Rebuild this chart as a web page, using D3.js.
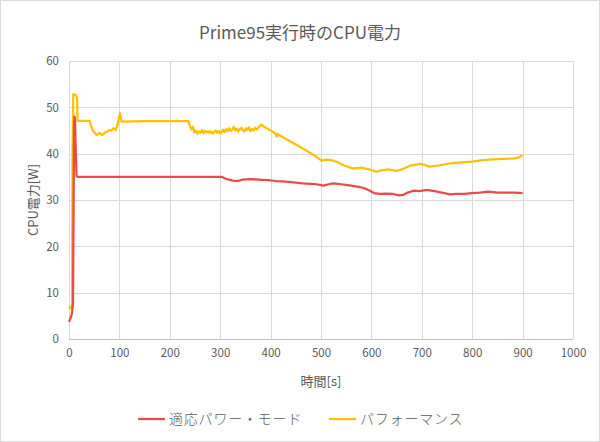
<!DOCTYPE html>
<html><head><meta charset="utf-8">
<script src="https://cdn.jsdelivr.net/npm/d3@7"></script>
<style>body{margin:0;background:#fff}svg{display:block}</style>
</head><body>
<svg id="c" width="600" height="442"></svg>
<script>
const title = "Prime95実行時のCPU電力";
const xLabel = "時間[s]";
const yLabel = "CPU電力[W]";
const seriesNames = ["適応パワー・モード", "パフォーマンス"];
const seriesColors = ["#ea4a4a", "#ffc000"];
const xTicks = [0,100,200,300,400,500,600,700,800,900,1000];
const yTicks = [0,10,20,30,40,50,60];

const adaptTimes = [0,3,6,8,10,11,12,13,15,17,100,200,303,313,325,335,345,359,375,395,410,425,445,464,480,491,500,505,515,524,540,560,577,590,597,605,617,630,643,655,663,672,683,695,710,725,740,756,770,785,799,815,832,850,870,885,900];
const adaptWatts = [3.7,4.5,5.5,8,46,48,47.5,42,35.2,35,35,35,35,34.5,34.2,34.1,34.4,34.5,34.4,34.3,34.1,34.0,33.8,33.6,33.5,33.4,33.2,33.1,33.4,33.6,33.4,33.1,32.8,32.4,32.0,31.5,31.3,31.4,31.3,31.0,31.1,31.6,32.0,31.9,32.2,31.9,31.6,31.2,31.3,31.3,31.5,31.6,31.8,31.6,31.6,31.6,31.5];

const perfTimes = [0,3,6,7,8.5,10,14,16,17,20,41,44,47,51,55,58,61.5,65,68,72,76,81,84,88,93,97,101,104.5,150,200,237,240,243,246,249,252,255,258,261,264,267,270,273,276,279,282,285,288,291,294,297,300,303,306,309,312,315,318,321,324,327,330,333,336,339,342,345,348,351,354,357,360,363,366,369,372,375,378,381,384,387,390,395,400,405,410,412,414,420,430,450,475,490,501,511,520,530,545,563,580,595,610,620,633,650,660,677,698,705,715,736,756,780,799,820,850,885,893,900];
const perfWatts = [6.5,7,6.5,40,52.8,52.8,52.6,52,47.1,47.1,47.1,46,45.1,44.5,44.0,44.3,44.5,44.0,44.2,44.6,44.8,45.1,45.0,45.5,45.1,46.5,48.7,46.9,47.0,47.0,47.0,46.0,45.2,45.8,44.6,45.0,44.3,44.8,44.5,45.1,44.4,44.9,44.6,44.9,44.5,44.8,44.3,44.7,45.0,44.5,44.9,44.4,44.7,45.2,44.6,45.3,44.8,45.5,44.9,45.2,45.8,45.0,45.4,44.8,45.3,45.6,45.0,44.8,45.5,45.1,45.7,44.9,45.3,45.0,45.6,45.2,45.5,45.9,46.2,46.1,45.8,45.6,45.3,45.0,44.7,44.3,43.7,44.2,43.8,43.2,42.0,40.4,39.4,38.5,38.7,38.6,38.3,37.5,36.8,37.0,36.6,36.1,36.4,36.6,36.3,36.6,37.4,37.8,37.6,37.2,37.5,37.9,38.1,38.3,38.6,38.8,39.0,39.2,39.7];

const W = 600, H = 442;
const m = {left: 69, right: 27, top: 61, bottom: 103};
const svg = d3.select("#c");
const font = "'Noto Sans CJK JP', 'Noto Sans', sans-serif";
const txt = "#595959";

svg.append("rect").attr("x",0.5).attr("y",0.5).attr("width",W-1).attr("height",H-1)
  .attr("fill","#fff").attr("stroke","#d9d9d9");

const x = d3.scaleLinear().domain([0,1000]).range([m.left, W-m.right]);
const y = d3.scaleLinear().domain([0,60]).range([H-m.bottom, m.top]);

// grid
svg.append("g").selectAll("line").data(yTicks).join("line")
  .attr("x1",x(0)).attr("x2",x(1000)).attr("y1",d=>Math.round(y(d))+0.5).attr("y2",d=>Math.round(y(d))+0.5)
  .attr("stroke",d=>d===0?"#bfbfbf":"#d9d9d9").attr("stroke-width",1);
svg.append("g").selectAll("line").data(xTicks).join("line")
  .attr("y1",y(0)).attr("y2",y(60)).attr("x1",d=>Math.round(x(d))+0.5).attr("x2",d=>Math.round(x(d))+0.5)
  .attr("stroke","#d9d9d9").attr("stroke-width",1);

// axes
const xa = svg.append("g").attr("transform",`translate(0,${y(0)})`)
  .call(d3.axisBottom(x).tickValues(xTicks).tickFormat(d3.format("d")).tickSize(0).tickPadding(10));
const ya = svg.append("g").attr("transform",`translate(${x(0)},0)`)
  .call(d3.axisLeft(y).tickValues(yTicks).tickFormat(d3.format("d")).tickSize(0).tickPadding(10));
[xa,ya].forEach(a=>{a.select(".domain").remove();
  a.selectAll("text").attr("fill",txt).style("font-family",font).style("font-size","11.5px");});

// lines
const line = d3.line().x(d=>x(d[0])).y(d=>y(d[1]));
const series = [d3.zip(adaptTimes, adaptWatts), d3.zip(perfTimes, perfWatts)];
[1,0].forEach(i=>{
  svg.append("path").datum(series[i]).attr("d",line).attr("fill","none")
    .attr("stroke",seriesColors[i]).attr("stroke-width",2.25).attr("stroke-linejoin","round");
});

// titles
svg.append("text").attr("x",300).attr("y",39).attr("text-anchor","middle")
  .attr("fill",txt).style("font-family",font).style("font-size","17px").text(title);
svg.append("text").attr("x",(x(0)+x(1000))/2).attr("y",386).attr("text-anchor","middle")
  .attr("fill",txt).style("font-family",font).style("font-size","13px").text(xLabel);
svg.append("text").attr("transform",`translate(38,${(y(0)+y(60))/2}) rotate(-90)`).attr("text-anchor","middle")
  .attr("fill",txt).style("font-family",font).style("font-size","13px").text(yLabel);

// legend
const legX = [138, 329];
seriesNames.forEach((n,i)=>{
  const g = svg.append("g").attr("transform",`translate(${legX[i]},419)`);
  g.append("line").attr("x1",0).attr("x2",27).attr("y1",0).attr("y2",0)
    .attr("stroke",seriesColors[i]).attr("stroke-width",2.25);
  g.append("text").attr("x",31).attr("y",5).attr("fill",txt)
    .style("font-family",font).style("font-size","14px").style("font-weight","300").style("letter-spacing","0.8px").text(n);
});
</script>
</body></html>
